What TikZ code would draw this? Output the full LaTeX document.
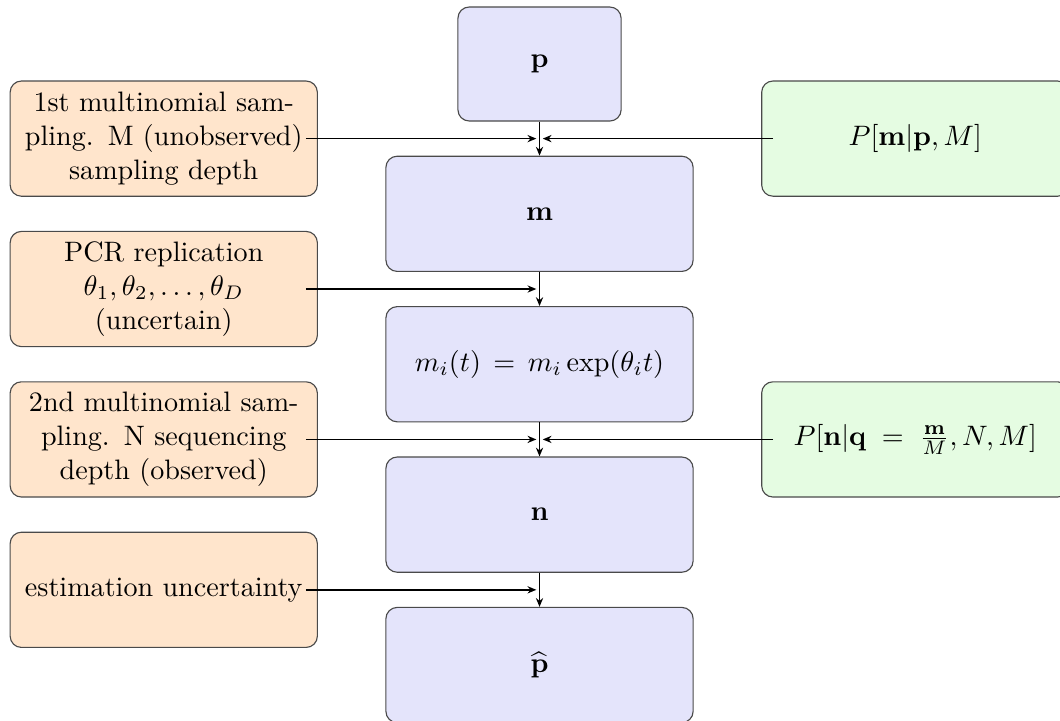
\documentclass[tikz,border=0pt]{standalone}
\usepackage{xcolor}
\usepackage{amsmath}
\usepackage{tikz}
\usetikzlibrary{arrows.meta,positioning,calc}
\definecolor{stageblue}{HTML}{E4E4FB}
\definecolor{causeorange}{HTML}{FFE5CC}
\definecolor{modelgreen}{HTML}{E5FCE2}
\definecolor{boxstroke}{HTML}{4A4A4A}
\tikzset{
  stage/.style={
    rectangle,
    rounded corners=4pt,
    draw=boxstroke,
    fill=stageblue,
    minimum width=3.84cm,
    minimum height=1.44cm,
    align=center
  },
  cause/.style={
    rectangle,
    rounded corners=4pt,
    draw=boxstroke,
    fill=causeorange,
    text width=3.6cm,
    inner xsep=0.12cm,
    minimum height=1.44cm,
    align=center
  },
  model/.style={
    rectangle,
    rounded corners=4pt,
    draw=boxstroke,
    fill=modelgreen,
    text width=3.6cm,
    inner xsep=0.12cm,
    minimum height=1.44cm,
    align=center
  },
  arrow/.style={-{Stealth[length=1.1mm,width=0.9mm]},semithick,draw=black},
  feed/.style={arrow,shorten <=-0.15cm,shorten >=0.04cm}
}
\begin{document}
\begin{tikzpicture}[node distance=0.426cm]
  \useasboundingbox (0,0) rectangle (13.25,-9);

  \node[stage, minimum width=2.04cm, minimum height=1.425cm] (p) at (6.744,-0.8) {$\mathbf{p}$};
  \node[stage, below=of p] (m) {$\mathbf{m}$};
  \node[stage, below=of m] (growth) {$m_i(t) \,=\, m_i\exp(\theta_i t)$};
  \node[stage, below=of growth] (n) {$\mathbf{n}$};
  \node[stage, below=of n] (phat) {$\widehat{\mathbf{p}}$};

  % junctions between the stages
  \coordinate (j1) at ($(p.south)!0.5!(m.north)$);
  \coordinate (j2) at ($(m.south)!0.5!(growth.north)$);
  \coordinate (j3) at ($(growth.south)!0.5!(n.north)$);
  \coordinate (j4) at ($(n.south)!0.5!(phat.north)$);

  \node[cause, left=2.77cm of j1] (sample1) {1st multinomial sampling. M (unobserved) sampling depth};
  \node[cause, left=2.77cm of j2] (pcr) {PCR replication\\ $\theta_1,\theta_2,\ldots,\theta_D$\\ (uncertain)};
  \node[cause, left=2.77cm of j3] (sample2) {2nd multinomial sampling. N sequencing depth (observed)};
  \node[cause, left=2.77cm of j4] (estim) {estimation uncertainty};

  \node[model, right=2.77cm of j1] (law1) {$P[\mathbf{m}|\mathbf{p},M]$};
  \node[model, right=2.77cm of j3] (law2) {$P[\mathbf{n}|\mathbf{q} \,=\, \frac{\mathbf{m}}{M},N,M]$};

  \draw[arrow] (p) -- (m);
  \draw[arrow] (m) -- (growth);
  \draw[arrow] (growth) -- (n);
  \draw[arrow] (n) -- (phat);

  \draw[feed] (sample1.east) -- (j1);
  \draw[feed] (pcr.east) -- (j2);
  \draw[feed] (sample2.east) -- (j3);
  \draw[feed] (estim.east) -- (j4);
  \draw[feed] (law1.west) -- (j1);
  \draw[feed] (law2.west) -- (j3);
\end{tikzpicture}
\end{document}
